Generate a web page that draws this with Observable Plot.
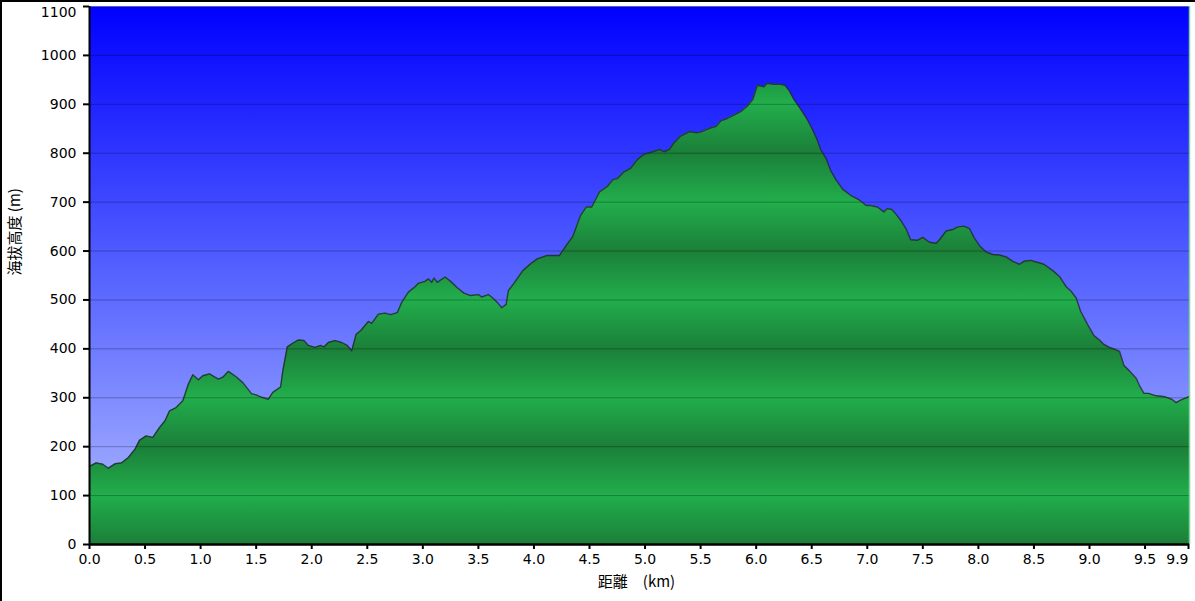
<!DOCTYPE html>
<html><head><meta charset="utf-8">
<script src="https://cdn.jsdelivr.net/npm/d3@7"></script>
<script src="https://cdn.jsdelivr.net/npm/@observablehq/plot@0.6"></script>
<style>
body{margin:0;background:#fff;}
#wrap{position:relative;width:1195px;height:601px;overflow:hidden;}
#border{position:absolute;left:0;top:0;width:1195px;height:601px;box-sizing:border-box;border-top:2px solid #000;border-left:2px solid #000;pointer-events:none;}
</style></head><body><div id="wrap"><div id="border"></div></div>
<script>
const distKm = [0.00,0.01,0.06,0.12,0.17,0.23,0.29,0.35,0.41,0.45,0.51,0.57,0.63,0.68,0.72,0.78,0.84,0.89,0.93,0.98,
1.02,1.08,1.16,1.20,1.25,1.32,1.38,1.46,1.50,1.55,1.61,1.65,1.72,1.74,1.78,1.84,1.88,1.93,1.97,2.03,
2.08,2.11,2.15,2.21,2.27,2.32,2.36,2.40,2.44,2.51,2.54,2.60,2.66,2.71,2.77,2.81,2.87,2.93,2.96,3.02,
3.05,3.08,3.10,3.13,3.20,3.25,3.31,3.37,3.43,3.50,3.53,3.59,3.64,3.67,3.71,3.75,3.77,3.82,3.90,3.97,
4.03,4.12,4.23,4.29,4.35,4.42,4.47,4.52,4.59,4.66,4.71,4.75,4.81,4.87,4.93,4.99,5.07,5.13,5.17,5.22,
5.26,5.32,5.40,5.47,5.51,5.58,5.64,5.68,5.74,5.80,5.86,5.92,5.97,6.01,6.07,6.10,6.16,6.22,6.26,6.30,
6.34,6.40,6.46,6.51,6.55,6.58,6.63,6.67,6.72,6.78,6.85,6.93,6.99,7.03,7.09,7.15,7.18,7.22,7.26,7.30,
7.35,7.39,7.45,7.50,7.56,7.62,7.65,7.71,7.77,7.81,7.87,7.92,7.96,8.01,8.07,8.13,8.19,8.25,8.31,8.37,
8.41,8.47,8.53,8.59,8.67,8.73,8.79,8.83,8.88,8.92,8.98,9.04,9.09,9.13,9.18,9.22,9.27,9.31,9.36,9.42,
9.45,9.49,9.53,9.60,9.68,9.74,9.78,9.82,9.89,9.90];
const elevM = [160,161,167,164,156,165,167,178,195,213,222,219,239,253,273,280,294,328,347,337,
345,349,338,342,354,343,331,308,306,301,297,311,322,355,404,413,418,417,407,403,
407,404,413,417,413,407,396,430,437,456,452,471,473,470,474,495,516,527,534,538,
543,536,545,536,547,538,525,514,509,511,506,511,502,495,484,491,519,534,560,574,
584,591,591,611,630,673,690,690,721,732,746,748,762,769,787,798,803,808,803,808,
821,835,844,842,844,851,855,866,871,878,885,896,910,939,936,943,941,941,939,927,
910,890,869,847,827,808,789,765,745,726,714,704,693,693,690,680,687,685,675,663,
645,623,622,628,618,616,623,641,644,649,651,646,628,611,598,593,592,588,579,573,
579,581,577,573,560,548,527,519,504,477,451,427,418,409,403,400,395,366,355,340,
325,309,309,304,302,297,290,295,302,302];
const yTicks = [0,100,200,300,400,500,600,700,800,900,1000,1100];
const xTicks = [0,0.5,1,1.5,2,2.5,3,3.5,4,4.5,5,5.5,6,6.5,7,7.5,8,8.5,9,9.5,9.9];
const yTitle = "海拔高度 (m)";
const xTitle = "距離　(km)";

const profile = distKm.map((d, i) => ({d, e: elevM[i]}));
const yMax = yTicks[yTicks.length - 1];
const xMax = xTicks[xTicks.length - 1];

const chart = Plot.plot({
  width: 1195, height: 601,
  marginLeft: 89, marginRight: 6, marginTop: 6, marginBottom: 57,
  style: {fontFamily: "DejaVu Sans", fontSize: "14px", background: "#fff", color: "#000"},
  x: {domain: [0, xMax]},
  y: {domain: [0, yMax]},
  marks: [
    Plot.frame({fill: "url(#bgGrad)", stroke: null}),
    Plot.areaY(profile, {x: "d", y: "e", fill: "url(#greenBands)"}),
    Plot.gridY(yTicks, {stroke: "#000", strokeOpacity: 0.28, strokeWidth: 1}),
    Plot.lineY(profile, {x: "d", y: "e", stroke: "#252535", strokeOpacity: 0.8, strokeWidth: 1.4}),
    Plot.ruleX([xMax], {stroke: "#7fd39a", strokeWidth: 1.5}),
    Plot.axisY(yTicks, {tickSize: 6, tickPadding: 7, label: null, fontSize: 14, strokeWidth: 2, tickFormat: d => d === yMax ? "" : String(d)}),
    Plot.text([yMax], {y: d => d, text: d => String(d), frameAnchor: "left", textAnchor: "end", dx: -13, dy: 6, fontSize: 14, fill: "#000"}),
    Plot.axisX(xTicks.filter(t => t < xMax), {tickSize: 5, tickPadding: 5, label: null, tickFormat: d3.format(".1f"), fontSize: 14, strokeWidth: 2}),
    Plot.axisX([xMax], {tickSize: 5, tickPadding: 5, label: null, tickFormat: d3.format(".1f"), fontSize: 14, strokeWidth: 2, textAnchor: "end", dx: -1}),
    Plot.ruleX([0], {stroke: "#000", strokeWidth: 2}),
    Plot.ruleY([0], {stroke: "#000", strokeWidth: 2.5}),
    Plot.text([yTitle], {text: d => d, frameAnchor: "left", dx: -74, rotate: -90, fontSize: 15, fontFamily: "Noto Sans CJK JP", fill: "#000"}),
    Plot.text([xTitle], {text: d => d, frameAnchor: "bottom", dy: 42, dx: -3, fontSize: 15, fontFamily: "Noto Sans CJK JP", fill: "#000"})
  ]
});

const ys = chart.scale("y");
const svg = d3.select(chart);
const defs = svg.insert("defs", ":first-child");
const bg = defs.append("linearGradient").attr("id", "bgGrad")
  .attr("gradientUnits", "userSpaceOnUse")
  .attr("x1", 0).attr("x2", 0).attr("y1", ys.apply(yMax)).attr("y2", ys.apply(0));
[[0, "#0000ff"], [0.5, "#5663ff"], [0.86, "#98a4ff"], [1, "#aab6ff"]].forEach(([o, c]) =>
  bg.append("stop").attr("offset", o).attr("stop-color", c));
const gb = defs.append("linearGradient").attr("id", "greenBands")
  .attr("gradientUnits", "userSpaceOnUse").attr("spreadMethod", "repeat")
  .attr("x1", 0).attr("x2", 0).attr("y1", ys.apply(0)).attr("y2", ys.apply(200));
[[0, "#1b7f39"], [0.5, "#22ae4c"], [1, "#1b7f39"]].forEach(([o, c]) =>
  gb.append("stop").attr("offset", o).attr("stop-color", c));

document.getElementById("wrap").prepend(chart);
</script>
</body></html>
